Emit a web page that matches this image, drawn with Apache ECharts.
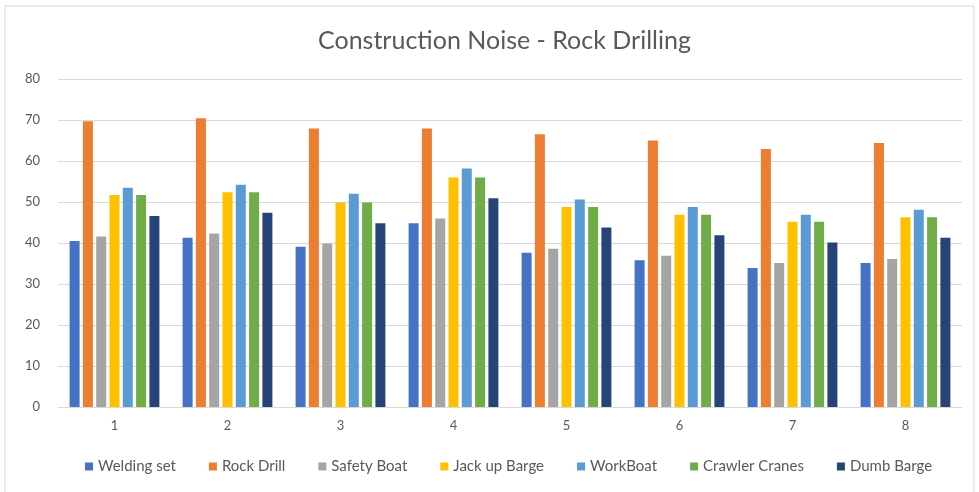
<!DOCTYPE html>
<html>
<head>
<meta charset="utf-8">
<script src="https://cdn.jsdelivr.net/npm/echarts@6/dist/echarts.min.js"></script>
<style>
html, body { margin: 0; padding: 0; background: #fff; }
#main { width: 979px; height: 492px; }
</style>
</head>
<body>
<div id="main"></div>
<script>
// data
var categories = ['1', '2', '3', '4', '5', '6', '7', '8'];
var seriesNames = ['Welding set', 'Rock Drill', 'Safety Boat', 'Jack up Barge', 'WorkBoat', 'Crawler Cranes', 'Dumb Barge'];
var weldingSet   = [40.5, 41.3, 39.1, 44.8, 37.6, 35.8, 33.9, 35.1];
var rockDrill    = [69.7, 70.4, 67.9, 67.9, 66.5, 65.0, 62.9, 64.4];
var safetyBoat   = [41.6, 42.3, 39.9, 46.0, 38.6, 36.9, 35.1, 36.1];
var jackUpBarge  = [51.7, 52.4, 49.9, 56.0, 48.8, 46.9, 45.2, 46.3];
var workBoat     = [53.5, 54.2, 52.0, 58.2, 50.6, 48.8, 46.9, 48.1];
var crawlerCranes= [51.7, 52.4, 49.9, 56.0, 48.8, 46.9, 45.2, 46.3];
var dumbBarge    = [46.6, 47.4, 44.8, 50.9, 43.8, 41.9, 40.1, 41.3];

var allValues = [weldingSet, rockDrill, safetyBoat, jackUpBarge, workBoat, crawlerCranes, dumbBarge];
var colors = ['#4472C4', '#ED7D31', '#A5A5A5', '#FFC000', '#5B9BD5', '#70AD47', '#264478'];

var myChart = echarts.init(document.getElementById('main'));

var series = [];
for (var i = 0; i < seriesNames.length; i++) {
    series.push({
        name: seriesNames[i],
        type: 'bar',
        data: allValues[i],
        barWidth: 10,
        barGap: '33%',
        itemStyle: { color: colors[i] }
    });
}

var option = {
    backgroundColor: '#fff',
    textStyle: { fontFamily: 'Lato' },
    title: {
        text: 'Construction Noise - Rock Drilling',
        left: 313,
        top: 23,
        textStyle: { fontFamily: 'Lato', fontSize: 25, fontWeight: 'normal', color: '#595959' }
    },
    legend: {
        bottom: 13,
        left: 80,
        itemWidth: 8,
        itemHeight: 8,
        itemGap: 33,
        icon: 'rect',
        textStyle: { fontFamily: 'Lato', fontSize: 15, color: '#595959' },
        data: seriesNames
    },
    grid: { left: 58, right: 17, top: 79, bottom: 85, containLabel: false },
    xAxis: {
        type: 'category',
        data: categories,
        axisLine: { lineStyle: { color: '#D9D9D9' } },
        axisTick: { show: false },
        axisLabel: { color: '#595959', fontSize: 13, margin: 12 }
    },
    yAxis: {
        type: 'value',
        min: 0,
        max: 80,
        interval: 10,
        axisLine: { show: false },
        axisTick: { show: false },
        axisLabel: { color: '#595959', fontSize: 13, margin: 18 },
        splitLine: { lineStyle: { color: '#D9D9D9' } }
    },
    graphic: [{
        type: 'rect',
        shape: { x: 5, y: 6, width: 969, height: 490 },
        style: { fill: 'none', stroke: '#D9D9D9', lineWidth: 1 },
        silent: true
    }],
    series: series
};

myChart.setOption(option);
</script>
</body>
</html>
